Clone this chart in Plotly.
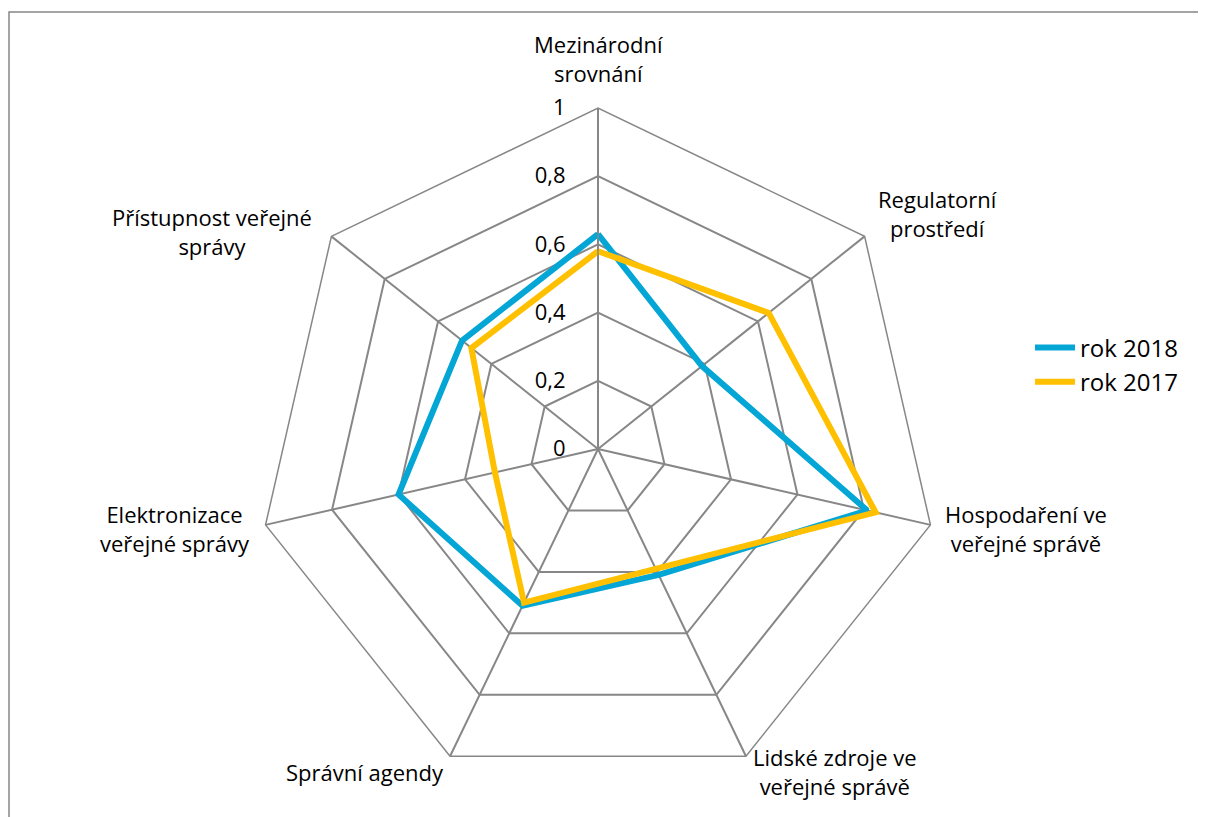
import math
import plotly.graph_objects as go

categories = [
    "Mezinárodní<br>srovnání",
    "Regulatorní<br>prostředí",
    "Hospodaření ve<br>veřejné správě",
    "Lidské zdroje ve<br>veřejné správě",
    "Správní agendy",
    "Elektronizace<br>veřejné správy",
    "Přístupnost veřejné<br>správy",
]
rok_2018 = [0.63, 0.39, 0.81, 0.41, 0.51, 0.60, 0.51]
rok_2017 = [0.58, 0.64, 0.835, 0.39, 0.50, 0.31, 0.475]
radial_ticks = [0, 0.2, 0.4, 0.6, 0.8, 1]
series_names = ["rok 2018", "rok 2017"]

W, H = 1206, 817
OFF = 8  # page body margin
CX, CY, R = 598 - OFF, 449 - OFF, 341
FONT = "Open Sans"
FS = 22
GRID = "#878787"
BLUE = "#04A6D6"
YELLOW = "#FFC000"

idx = list(range(len(categories)))
theta = idx + [idx[0]]

fig = go.Figure()
fig.add_trace(go.Scatterpolar(
    r=rok_2018 + [rok_2018[0]], theta=theta, mode="lines", name=series_names[0],
    line=dict(color=BLUE, width=6), hoverinfo="skip"))
fig.add_trace(go.Scatterpolar(
    r=rok_2017 + [rok_2017[0]], theta=theta, mode="lines", name=series_names[1],
    line=dict(color=YELLOW, width=6), hoverinfo="skip"))

# label placement (offsets from polygon vertices, in px)
label_style = [
    (0, -18, "center", "bottom"),
    (11, -23, "left", "middle"),
    (13, 4, "left", "middle"),
    (5, 15, "left", "middle"),
    (-4, 16, "right", "middle"),
    (-14, 4, "right", "middle"),
    (-17, -5, "right", "middle"),
]
annotations = []
n = len(categories)
for i, cat in enumerate(categories):
    a = math.radians(i * 360 / n)
    vx = CX + R * math.sin(a)
    vy = CY - R * math.cos(a)
    dx, dy, xa, ya = label_style[i]
    annotations.append(dict(
        text=cat, x=(vx + dx) / W, y=1 - (vy + dy) / H, xref="paper", yref="paper",
        xanchor=xa, yanchor=ya, showarrow=False, align="center",
        font=dict(family=FONT, size=FS, color="#000000")))

fig.update_layout(
    width=W, height=H,
    margin=dict(l=0, r=0, t=0, b=0),
    paper_bgcolor="white", plot_bgcolor="white",
    separators=", ",
    font=dict(family=FONT, size=FS, color="#000000"),
    polar=dict(
        domain=dict(x=[(CX - R) / W, (CX + R) / W], y=[1 - (CY + R) / H, 1 - (CY - R) / H]),
        gridshape="linear",
        bgcolor="white",
        radialaxis=dict(
            range=[0, 1], tickvals=radial_ticks, angle=90, side="counterclockwise",
            tickangle=90, showline=True, linecolor=GRID, linewidth=1.5,
            gridcolor=GRID, gridwidth=1.5, ticks="outside", ticklen=24,
            tickcolor="rgba(0,0,0,0)", tickfont=dict(family=FONT, size=FS, color="#000000"),
        ),
        angularaxis=dict(
            type="category", categoryarray=idx, tickvals=idx, rotation=90,
            direction="clockwise", showline=True, linecolor=GRID, linewidth=1.5,
            gridcolor=GRID, gridwidth=1.5, showticklabels=False, ticks="",
        ),
    ),
    legend=dict(
        x=(1030 - OFF) / W, y=1 - (365 - OFF) / H, xanchor="left", yanchor="middle",
        font=dict(family=FONT, size=24, color="#000000"), bgcolor="rgba(0,0,0,0)",
        tracegroupgap=0, itemwidth=40,
    ),
    annotations=annotations,
    shapes=[dict(type="rect", xref="paper", yref="paper", x0=(9 - OFF) / W, x1=1.02,
                 y0=-0.02, y1=1 - (12 - OFF) / H, line=dict(color=GRID, width=1.5))],
)

fig.write_html("out.html")
